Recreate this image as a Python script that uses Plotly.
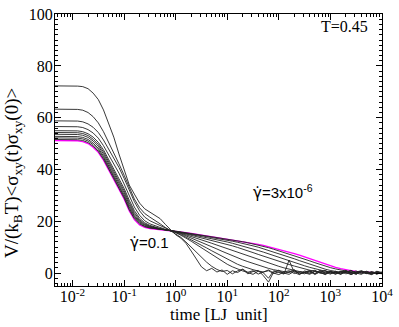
import plotly.graph_objects as go

# time grid [LJ units]
TIME = [0.00398, 0.00501, 0.00631, 0.00794,
        0.01, 0.0126, 0.0158, 0.02, 0.0251, 0.0316, 0.0398, 0.0501, 0.0631, 0.0794,
        0.1, 0.126, 0.158, 0.2, 0.251, 0.316, 0.398, 0.501, 0.631, 0.794,
        1, 1.26, 1.58, 2.0, 2.51, 3.16, 3.98, 5.01, 6.31, 7.94,
        10, 12.6, 15.8, 20, 25.1, 31.6, 39.8, 50.1, 63.1, 79.4,
        100, 126, 158, 200, 251, 316, 398, 501, 631, 794,
        1000, 1260, 1580, 2000, 2510, 3160, 3980, 5010, 6310, 7940,
        10000]

# equilibrium reference (magenta)
EQUIL = [51.2, 51.2, 51.2, 51.2,
         51.2, 51.1, 50.8, 50.0, 48.6, 46.6, 43.6, 40.0, 36.4, 32.8,
         28.6, 24.0, 20.6, 18.6, 17.6, 17.2, 17.0, 16.8, 16.6, 16.4,
         16.2, 15.9, 15.6, 15.3, 15.0, 14.7, 14.4, 14.1, 13.8, 13.5,
         13.2, 12.9, 12.6, 12.3, 11.9, 11.5, 11.1, 10.7, 10.2, 9.7,
         9.2, 8.7, 8.1, 7.5, 6.9, 6.2, 5.5, 4.8, 4.1, 3.4,
         2.8, 2.2, 1.7, 1.2, 0.9, 0.6, 0.5, 0.3, 0.4, 0.1,
         0.0]

# sheared runs, one list per shear rate
RATE_3e_6 = [51.6, 51.6, 51.6, 51.6,
             51.6, 51.5, 51.2, 50.4, 49.0, 47.0, 44.0, 40.4, 36.8, 33.2,
             29.0, 24.4, 21.0, 19.0, 17.9, 17.4, 17.1, 16.9, 16.7, 16.4,
             16.2, 15.9, 15.6, 15.3, 15.0, 14.7, 14.4, 14.1, 13.8, 13.5,
             13.1, 12.8, 12.5, 12.1, 11.7, 11.3, 10.8, 10.3, 9.8, 9.2,
             8.6, 8.0, 7.4, 6.8, 6.1, 5.4, 4.7, 4.0, 3.3, 2.7,
             2.1, 1.6, 1.1, 0.8, 0.5, 0.3, 0.6, -0.2, 0.4, 0.1,
             -0.3]
RATE_1e_5 = [52.2, 52.2, 52.2, 52.2,
             52.2, 52.1, 51.8, 51.0, 49.6, 47.6, 44.6, 41.0, 37.4, 33.8,
             29.6, 25.0, 21.5, 19.3, 18.1, 17.5, 17.1, 16.9, 16.7, 16.4,
             16.2, 15.8, 15.5, 15.1, 14.8, 14.4, 14.1, 13.7, 13.4, 13.0,
             12.7, 12.3, 11.9, 11.5, 11.0, 10.5, 10.0, 9.4, 8.8, 8.2,
             7.6, 6.9, 6.2, 5.5, 4.8, 4.1, 3.4, 2.7, 2.1, 1.5,
             1.0, 0.6, 0.3, 0.7, 0.0, -0.4, 0.5, 0.2, -0.3, 0.4,
             0.0]
RATE_3e_5 = [52.8, 52.8, 52.8, 52.8,
             52.8, 52.7, 52.4, 51.6, 50.2, 48.2, 45.2, 41.6, 38.0, 34.4,
             30.2, 25.6, 22.0, 19.7, 18.4, 17.7, 17.2, 16.9, 16.7, 16.4,
             16.2, 15.7, 15.3, 14.9, 14.5, 14.0, 13.6, 13.2, 12.8, 12.4,
             12.0, 11.5, 11.0, 10.5, 9.9, 9.3, 8.7, 8.1, 7.4, 6.8,
             6.1, 5.4, 4.7, 4.1, 3.4, 2.8, 2.2, 1.6, 1.1, 0.7,
             0.4, 0.1, 0.6, -0.3, 0.2, 0.8, -0.2, 0.3, -0.5, 0.2,
             0.1]
RATE_1e_4 = [53.6, 53.6, 53.6, 53.6,
             53.6, 53.5, 53.2, 52.4, 51.0, 49.0, 46.0, 42.4, 38.8, 35.2,
             31.0, 26.4, 22.6, 20.1, 18.7, 17.9, 17.4, 17.0, 16.7, 16.4,
             16.1, 15.6, 15.1, 14.6, 14.1, 13.6, 13.1, 12.6, 12.1, 11.6,
             11.1, 10.5, 9.9, 9.3, 8.6, 7.9, 7.2, 6.5, 5.8, 5.1,
             4.5, 3.9, 3.3, 2.7, 2.1, 1.6, 1.1, 0.7, 0.4, 0.9,
             0.1, -0.3, 0.5, 0.2, -0.6, 0.4, 0.9, -0.1, 0.3, -0.4,
             0.2]
RATE_3e_4 = [54.3, 54.3, 54.3, 54.3,
             54.3, 54.2, 53.9, 53.1, 51.7, 49.7, 46.8, 43.2, 39.6, 36.0,
             31.8, 27.2, 23.3, 20.6, 19.0, 18.1, 17.5, 17.1, 16.7, 16.4,
             16.0, 15.4, 14.8, 14.2, 13.5, 12.9, 12.2, 11.5, 10.8, 10.1,
             9.4, 8.7, 8.0, 7.3, 6.6, 5.9, 5.2, 4.5, 3.8, 3.2,
             2.6, 2.0, 1.5, 1.0, 0.6, 0.3, -0.2, 0.7, 0.1, -0.4,
             0.5, 0.2, -0.5, 0.6, 0.0, -0.3, 0.8, 0.2, -0.2, 0.5,
             0.0]
RATE_1e_3 = [55.0, 55.0, 55.0, 55.0,
             55.0, 54.9, 54.6, 53.8, 52.5, 50.5, 47.6, 44.0, 40.5, 36.9,
             32.7, 28.1, 24.1, 21.2, 19.4, 18.4, 17.7, 17.2, 16.7, 16.3,
             15.9, 15.2, 14.4, 13.6, 12.8, 12.0, 11.1, 10.2, 9.3, 8.4,
             7.5, 6.7, 5.9, 5.1, 4.4, 3.7, 3.0, 2.4, 1.8, 1.3,
             0.9, 0.5, 0.2, 0.9, -0.3, 0.4, 1.0, -0.2, 0.3, -0.6,
             0.5, 0.2, -0.3, 0.9, 0.1, -0.4, 0.6, 0.0, 0.4, -0.3,
             0.2]
RATE_3e_3 = [56.6, 56.6, 56.6, 56.6,
             56.6, 56.5, 56.2, 55.4, 54.1, 52.1, 49.2, 45.7, 42.2, 38.6,
             34.4, 29.8, 25.5, 22.3, 20.2, 19.0, 18.2, 17.5, 16.9, 16.3,
             15.7, 14.9, 13.9, 12.9, 11.8, 10.8, 9.7, 8.6, 7.5, 6.4,
             5.3, 4.3, 3.4, 2.6, 1.9, 1.3, 0.8, 0.4, 0.9, -0.2,
             0.5, 0.1, -0.5, 0.7, 0.2, -0.3, 0.6, 1.1, -0.1, 0.3,
             -0.4, 0.5, 0.0, 0.8, -0.5, 0.3, 0.1, 0.7, -0.2, 0.4,
             0.0]
RATE_1e_2 = [58.8, 58.8, 58.8, 58.8,
             58.8, 58.7, 58.4, 57.6, 56.3, 54.3, 51.4, 47.9, 44.4, 40.8,
             36.6, 32.0, 27.6, 24.0, 21.6, 20.2, 19.2, 18.2, 17.3, 16.5,
             15.7, 14.7, 13.5, 12.3, 11.0, 9.7, 8.4, 7.1, 5.8, 4.6,
             3.4, 2.4, 1.5, 0.8, 0.3, 0.9, -0.4, 0.5, 1.2, 0.0,
             -0.6, 0.4, 0.9, -0.2, 0.6, 0.1, -0.5, 0.8, 0.3, -0.3,
             0.7, -0.1, 0.4, 1.0, -0.4, 0.2, 0.6, -0.2, 0.5, 0.1,
             0.3]
RATE_3e_2 = [63.3, 63.3, 63.3, 63.3,
             63.3, 63.2, 62.9, 62.0, 60.4, 58.0, 54.6, 50.6, 46.4, 42.2,
             37.8, 33.0, 28.6, 25.2, 23.0, 21.6, 20.4, 19.0, 17.6, 16.4,
             15.2, 13.8, 12.0, 10.0, 8.0, 6.0, 4.2, 2.6, 1.4, 0.6,
             1.0, -0.3, 0.8, 1.5, 0.2, -0.5, 0.7, 0.1, -2.0, 0.9,
             0.3, -0.4, 5.0, 0.2, -0.6, 0.8, 0.3, -0.2, 1.1, 0.0,
             0.5, -0.5, 0.6, 0.2, 0.9, -0.3, 0.4, 0.0, -0.6, 0.7,
             0.2]
RATE_1e_1 = [72.3, 72.3, 72.3, 72.3,
             72.3, 72.2, 72.0, 71.2, 69.5, 67.0, 63.0, 58.0, 52.5, 46.0,
             40.0, 34.0, 30.5, 27.0, 24.8, 23.6, 22.4, 21.0, 18.8, 16.8,
             14.8, 13.5, 11.5, 8.5, 5.2, 2.4, 0.9, 1.8, 0.4, 1.2,
             -0.5, 0.9, 0.2, 1.4, -0.3, 0.6, 1.0, -1.0, -3.5, 0.4,
             1.1, -0.2, 0.5, 1.3, -0.4, 0.3, 0.8, -0.6, 0.6, 1.0,
             -0.2, 0.7, -0.4, 0.3, 1.1, 0.0, -0.5, 0.6, 0.2, -0.3,
             0.4]

SHEARED = [RATE_3e_6, RATE_1e_5, RATE_3e_5, RATE_1e_4, RATE_3e_4,
           RATE_1e_3, RATE_3e_3, RATE_1e_2, RATE_3e_2, RATE_1e_1]

X_TICKS = [0.01, 0.1, 1, 10, 100, 1000, 10000]
X_LABELS = ["10<sup>-2</sup>", "10<sup>-1</sup>", "10<sup>0</sup>", "10<sup>1</sup>",
            "10<sup>2</sup>", "10<sup>3</sup>", "10<sup>4</sup>"]
Y_TICKS = [0, 20, 40, 60, 80, 100]

W, H = 399, 327
L, R, T, B = 55, 11, 6, 41


def px(x, y):
    return (x - L) / (W - L - R), 1 - (y - T) / (H - T - B)


fig = go.Figure()
fig.add_trace(go.Scatter(x=TIME, y=EQUIL, mode="lines", line=dict(color="#ff00ff", width=1.3)))
for run in SHEARED:
    fig.add_trace(go.Scatter(x=TIME, y=run, mode="lines", line=dict(color="#222222", width=0.9)))

axis_font = dict(family="Liberation Serif", size=16, color="black")
title_font = dict(family="Liberation Serif", size=17, color="black")
common = dict(showline=True, linecolor="black", linewidth=1.2, mirror="ticks", ticks="inside",
              ticklen=6, tickcolor="black", showgrid=False, zeroline=False, tickfont=axis_font,
              ticklabeloverflow="allow")
fig.update_xaxes(type="log", range=[-2.34, 4.001], tickvals=X_TICKS, ticktext=X_LABELS,
                 ticklabelstandoff=-4,
                 minor=dict(ticks="inside", ticklen=3, dtick="D1", tickcolor="black"), **common)
fig.update_yaxes(range=[-5, 100.05], tickvals=Y_TICKS, ticklabelstandoff=-2,
                 minor=dict(ticks="inside", ticklen=3, dtick=2, tickcolor="black"), **common)

gdot = "<span style='font-family:DejaVu Sans'>γ̇</span>"
ann = []
x0, y0 = px(13, 170)
ann.append(dict(text="V/(k<sub>B</sub>T)&lt;σ<sub>xy</sub>(t)σ<sub>xy</sub>(0)&gt;", x=x0, y=y0,
                textangle=-90, font=dict(family="Liberation Serif", size=19, color="black")))
x0, y0 = px(222, 315)
ann.append(dict(text="time [LJ  unit]", x=x0, y=y0, font=title_font))
x0, y0 = px(350, 19)
ann.append(dict(text="T=0.45", x=x0, y=y0, font=dict(family="Liberation Serif", size=16, color="black")))
x0, y0 = px(151, 242)
ann.append(dict(text=gdot + "=0.1", x=x0, y=y0, font=dict(family="Liberation Sans", size=15, color="black")))
x0, y0 = px(287, 189)
ann.append(dict(text=gdot + "=3x10<sup>-6</sup>", x=x0, y=y0,
                font=dict(family="Liberation Sans", size=15, color="black")))
for a in ann:
    a.update(xref="paper", yref="paper", showarrow=False, xanchor="center", yanchor="middle")

fig.update_layout(width=W, height=H, margin=dict(l=L, r=R, t=T, b=B), showlegend=False,
                  plot_bgcolor="white", paper_bgcolor="white", annotations=ann)
fig.write_html("out.html", config={"displayModeBar": False},
               post_script="document.body.style.margin='0';")
